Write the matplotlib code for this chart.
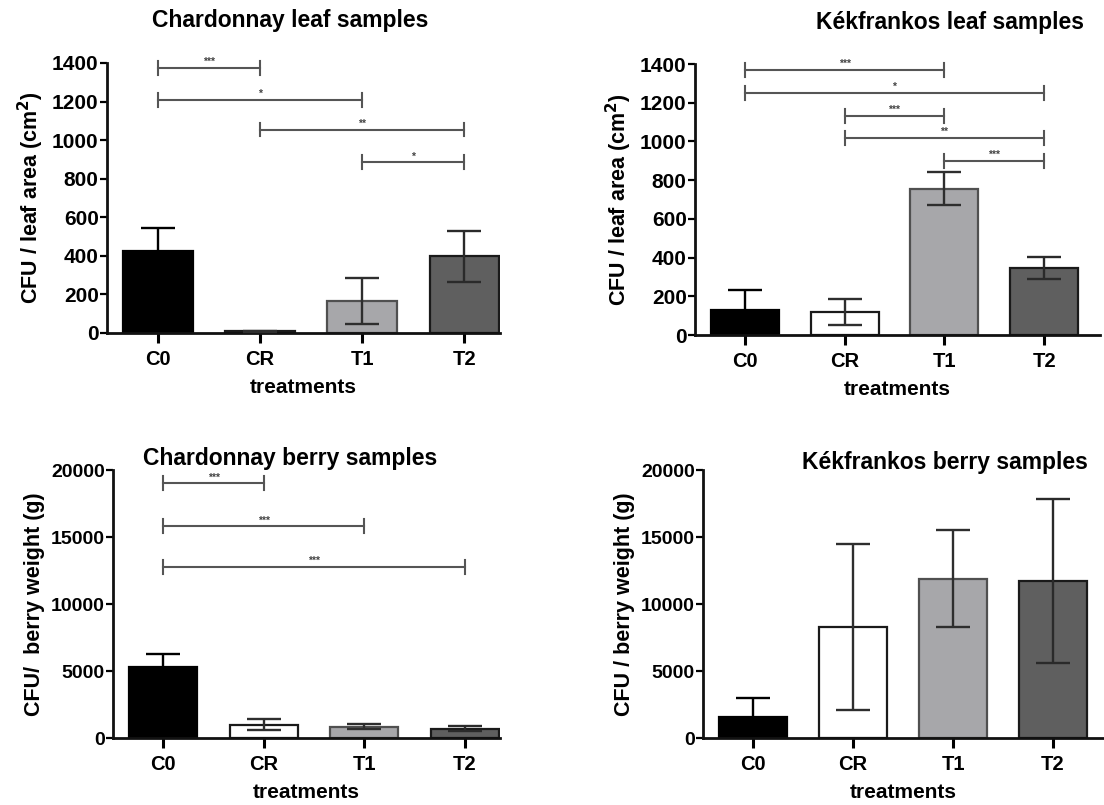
import matplotlib
matplotlib.use("Agg")
import matplotlib.pyplot as plt
import numpy as np

plt.rcParams['font.family'] = ['Liberation Sans', 'DejaVu Sans']
plt.rcParams['font.weight'] = 'bold'

categories = ["C0", "CR", "T1", "T2"]

chard_leaf_mean = [425, 8, 166, 397]
chard_leaf_sem = [120, 2, 117, 133]
kek_leaf_mean = [130, 120, 755, 345]
kek_leaf_sem = [100, 67, 85, 57]
chard_berry_mean = [5300, 1000, 850, 680]
chard_berry_sem = [970, 400, 200, 190]
kek_berry_mean = [1600, 8300, 11900, 11700]
kek_berry_sem = [1350, 6200, 3600, 6100]

# brackets: (i, j, y, label)
chard_leaf_sig = [(0, 1, 1375, "***"), (0, 2, 1210, "*"), (1, 3, 1055, "**"), (2, 3, 885, "*")]
kek_leaf_sig = [(0, 2, 1370, "***"), (0, 3, 1250, "*"), (1, 2, 1132, "***"), (1, 3, 1018, "**"), (2, 3, 899, "***")]
chard_berry_sig = [(0, 1, 19000, "***"), (0, 2, 15800, "***"), (0, 3, 12760, "***")]

bar_colors = ["#000000", "#ffffff", "#a7a7aa", "#5f5f5f"]
edge_colors = ["#000000", "#1a1a1a", "#505050", "#1a1a1a"]
err_colors = ["#000000", "#2e2e2e", "#2e2e2e", "#2a2a2a"]

W, H = 1104, 805
fig = plt.figure(figsize=(W / 100, H / 100), dpi=100)


def px_axes(left, right, bottom_px, top_px):
    return fig.add_axes([left / W, (H - bottom_px) / H, (right - left) / W, (bottom_px - top_px) / H])


def draw(ax, mean, sem, ymax, yticks, ylabel, xlim_right, sig, capd, ytick_fs):
    x = np.arange(len(categories))
    ax.bar(x, mean, width=0.68, color=bar_colors, edgecolor=edge_colors, linewidth=1.6, zorder=2)
    for k in range(len(categories)):
        ax.errorbar(x[k], mean[k], yerr=sem[k], fmt='none', ecolor=err_colors[k], elinewidth=1.7,
                    capsize=12, capthick=1.7, zorder=3)
    ax.set_xlim(-0.5, xlim_right)
    ax.set_ylim(0, ymax)
    ax.set_yticks(yticks)
    ax.set_yticklabels([str(t) for t in yticks], fontsize=ytick_fs, fontweight='bold')
    ax.set_xticks(x)
    ax.set_xticklabels(categories, fontsize=14.5, fontweight='bold')
    ax.set_xlabel("treatments", fontsize=15, fontweight='bold', labelpad=7)
    ax.set_ylabel(ylabel, fontsize=15.5, fontweight='bold', labelpad=4)
    for s in ['top', 'right']:
        ax.spines[s].set_visible(False)
    for s in ['left', 'bottom']:
        ax.spines[s].set_linewidth(2.0)
        ax.spines[s].set_color('#111111')
    ax.tick_params(axis='y', direction='out', length=5, width=1.6, pad=1)
    ax.tick_params(axis='x', direction='out', length=7, width=2.2, pad=5)
    for (i, j, y, lab) in sig:
        ax.plot([i, j], [y, y], color='#555555', lw=1.5, clip_on=False, zorder=4)
        ax.plot([i, i], [y - capd, y + capd], color='#555555', lw=1.5, clip_on=False, zorder=4)
        ax.plot([j, j], [y - capd, y + capd], color='#555555', lw=1.5, clip_on=False, zorder=4)
        ax.text((i + j) / 2, y + capd * 0.1, lab, ha='center', va='bottom', fontsize=7.5,
                color='#444444', clip_on=False)


ax1 = px_axes(107, 500, 333, 63)
draw(ax1, chard_leaf_mean, chard_leaf_sem, 1400, [0, 200, 400, 600, 800, 1000, 1200, 1400],
     "CFU / leaf area (cm$^\\mathbf{2}$)", 3.35, chard_leaf_sig, 36, 15)

ax2 = px_axes(695, 1100, 335, 64)
draw(ax2, kek_leaf_mean, kek_leaf_sem, 1400, [0, 200, 400, 600, 800, 1000, 1200, 1400],
     "CFU / leaf area (cm$^\\mathbf{2}$)", 3.56, kek_leaf_sig, 36, 15)

ax3 = px_axes(113, 500, 738, 470)
draw(ax3, chard_berry_mean, chard_berry_sem, 20000, [0, 5000, 10000, 15000, 20000],
     "CFU/  berry weight (g)", 3.35, chard_berry_sig, 520, 14)

ax4 = px_axes(703, 1104, 738, 470)
draw(ax4, kek_berry_mean, kek_berry_sem, 20000, [0, 5000, 10000, 15000, 20000],
     "CFU / berry weight (g)", 3.51, [], 520, 14)

fig.text(290 / W, 1 - 20 / H, "Chardonnay leaf samples", ha='center', va='center', fontsize=16.5, fontweight='bold')
fig.text(950 / W, 1 - 22 / H, "Kékfrankos leaf samples", ha='center', va='center', fontsize=16.5, fontweight='bold')
fig.text(290 / W, 1 - 458 / H, "Chardonnay berry samples", ha='center', va='center', fontsize=16.5, fontweight='bold')
fig.text(945 / W, 1 - 462 / H, "Kékfrankos berry samples", ha='center', va='center', fontsize=16.5, fontweight='bold')

fig.savefig("out.png", dpi=100)
